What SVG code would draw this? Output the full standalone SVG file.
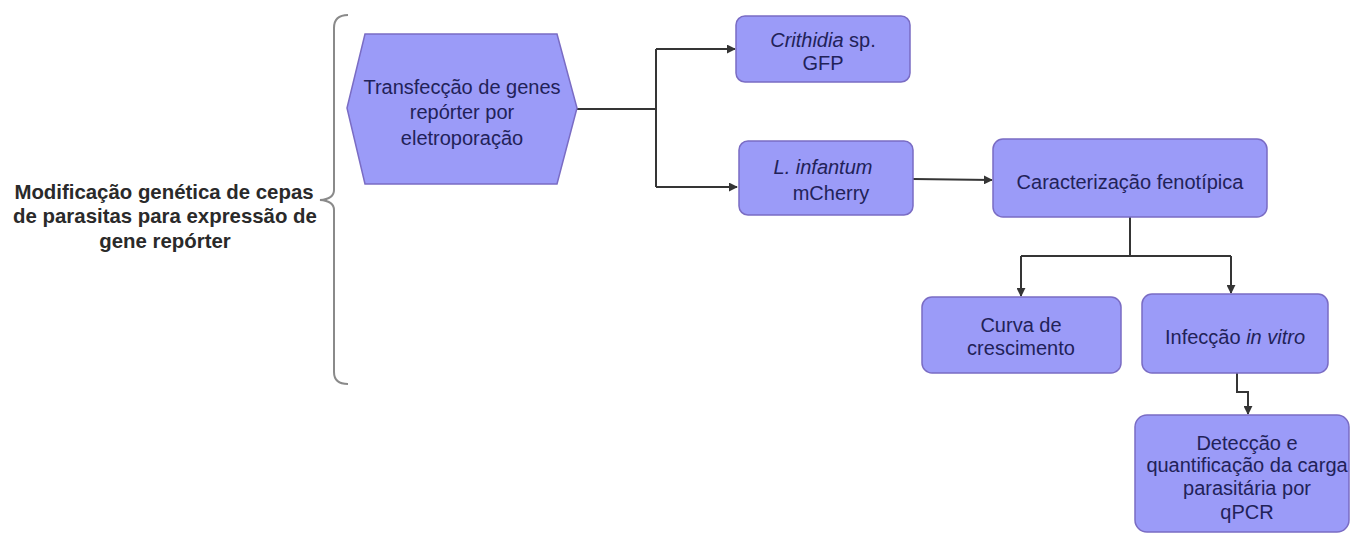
<svg xmlns="http://www.w3.org/2000/svg" width="1352" height="534" viewBox="0 0 1352 534">
<style>
.n{fill:#9b9bf8;stroke:#7a6cc4;stroke-width:1.5}
.t{font-family:"Liberation Sans",Arial,sans-serif;font-size:20px;fill:#222258;text-anchor:middle}
.b{font-family:"Liberation Sans",Arial,sans-serif;font-size:20.4px;font-weight:bold;fill:#2a2a2a;text-anchor:middle}
.c{fill:none;stroke:#353535;stroke-width:2}
.br{fill:none;stroke:#8a8a8a;stroke-width:2}
</style>
<defs>
<marker id="a" viewBox="0 0 10 10" refX="9" refY="5" markerWidth="4.5" markerHeight="4.5" orient="auto">
<path d="M0,0 L10,5 L0,10 z" fill="#353535"/>
</marker>
</defs>
<rect width="1352" height="534" fill="#ffffff"/>
<g id="label">
<text class="b" x="164" y="199">Modificação genética de cepas</text>
<text class="b" x="165" y="223">de parasitas para expressão de</text>
<text class="b" x="165" y="248">gene repórter</text>
</g>
<g id="brace">
<path class="br" d="M348,15 Q334,15 334,28 L334,190 Q334,199 320,200 Q334,201 334,210 L334,372 Q334,384 348,384"/>
</g>
<g id="connectors">
<path class="c" d="M577,109 L656,109 M656,49 L656,187"/>
<path class="c" d="M656,49 L735,49" marker-end="url(#a)"/>
<path class="c" d="M656,187 L737,187" marker-end="url(#a)"/>
<path class="c" d="M913,179 L992,180" marker-end="url(#a)"/>
<path class="c" d="M1130,217 L1130,256 M1021,256 L1231,256"/>
<path class="c" d="M1021,256 L1021,296" marker-end="url(#a)"/>
<path class="c" d="M1231,256 L1231,293" marker-end="url(#a)"/>
<path class="c" d="M1237,373 L1237,392 L1248,392 L1248,414" marker-end="url(#a)"/>
</g>
<g id="hex">
<polygon class="n" points="365,34 557,34 577,108 557,184 365,184 347,108"/>
<text class="t" x="462" y="94">Transfecção de genes</text>
<text class="t" x="462" y="119">repórter por</text>
<text class="t" x="462" y="145">eletroporação</text>
</g>
<g id="crithidia">
<rect class="n" x="736" y="16" width="174" height="66" rx="9"/>
<text class="t" x="823" y="47"><tspan font-style="italic">Crithidia</tspan> sp.</text>
<text class="t" x="823" y="70">GFP</text>
</g>
<g id="linfantum">
<rect class="n" x="739" y="141" width="174" height="74" rx="9"/>
<text class="t" x="823" y="174" font-style="italic">L. infantum</text>
<text class="t" x="831" y="200">mCherry</text>
</g>
<g id="caract">
<rect class="n" x="993" y="139" width="274" height="78" rx="10"/>
<text class="t" x="1130" y="189">Caracterização fenotípica</text>
</g>
<g id="curva">
<rect class="n" x="922" y="297" width="199" height="76" rx="10"/>
<text class="t" x="1021" y="332">Curva de</text>
<text class="t" x="1021" y="355">crescimento</text>
</g>
<g id="infeccao">
<rect class="n" x="1142" y="294" width="186" height="79" rx="10"/>
<text class="t" x="1235" y="344">Infecção <tspan font-style="italic">in vitro</tspan></text>
</g>
<g id="deteccao">
<rect class="n" x="1135" y="415" width="214" height="117" rx="12"/>
<text class="t" x="1247" y="450">Detecção e</text>
<text class="t" x="1247" y="472">quantificação da carga</text>
<text class="t" x="1247" y="495">parasitária por</text>
<text class="t" x="1247" y="519">qPCR</text>
</g>
</svg>
